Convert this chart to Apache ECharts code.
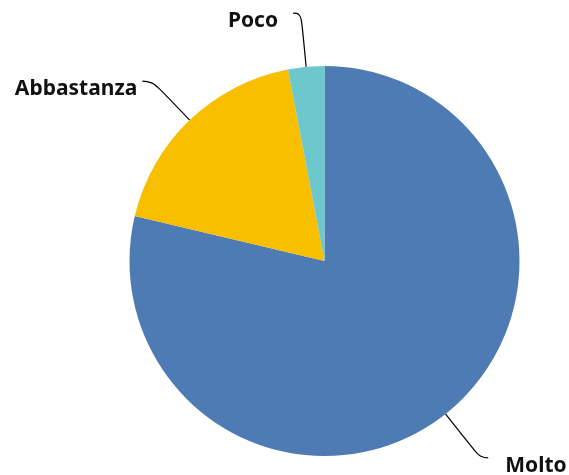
<!DOCTYPE html>
<html><head><meta charset="utf-8">
<script src="https://cdn.jsdelivr.net/npm/echarts@6/dist/echarts.min.js"></script>
<style>html,body{margin:0;padding:0;background:#fff}#c{width:569px;height:475px}</style>
</head><body><div id="c"></div>
<script>
const categories = ['Molto', 'Abbastanza', 'Poco'];
const values = [78.7, 18.3, 3.0];
const colors = ['#4e7bb4', '#f8be00', '#6cc8cc'];
const lineLen = [[56, 8], [54, 10], [54, 8]];
const labelPad = [[0, 0, 0, 12], [0, 0, 0, 0], [0, 10, 0, 0]];

const chart = echarts.init(document.getElementById('c'), null, {renderer: 'canvas'});
chart.setOption({
  animation: false,
  series: [{
    type: 'pie',
    center: [324.5, 261],
    radius: 195,
    startAngle: 90,
    clockwise: true,
    avoidLabelOverlap: false,
    data: categories.map((n, i) => ({
      name: n, value: values[i],
      itemStyle: {color: colors[i]},
      labelLine: {length: lineLen[i][0], length2: lineLen[i][1]},
      label: {padding: labelPad[i]}
    })),
    label: {
      show: true, formatter: '\n{b}', color: '#111', lineHeight: 16,
      fontFamily: 'Noto Sans', fontWeight: 'bold', fontSize: 21
    },
    labelLine: {show: true, smooth: 0.5, lineStyle: {color: '#000', width: 1.2}},
    itemStyle: {borderWidth: 0}
  }]
});
</script></body></html>
